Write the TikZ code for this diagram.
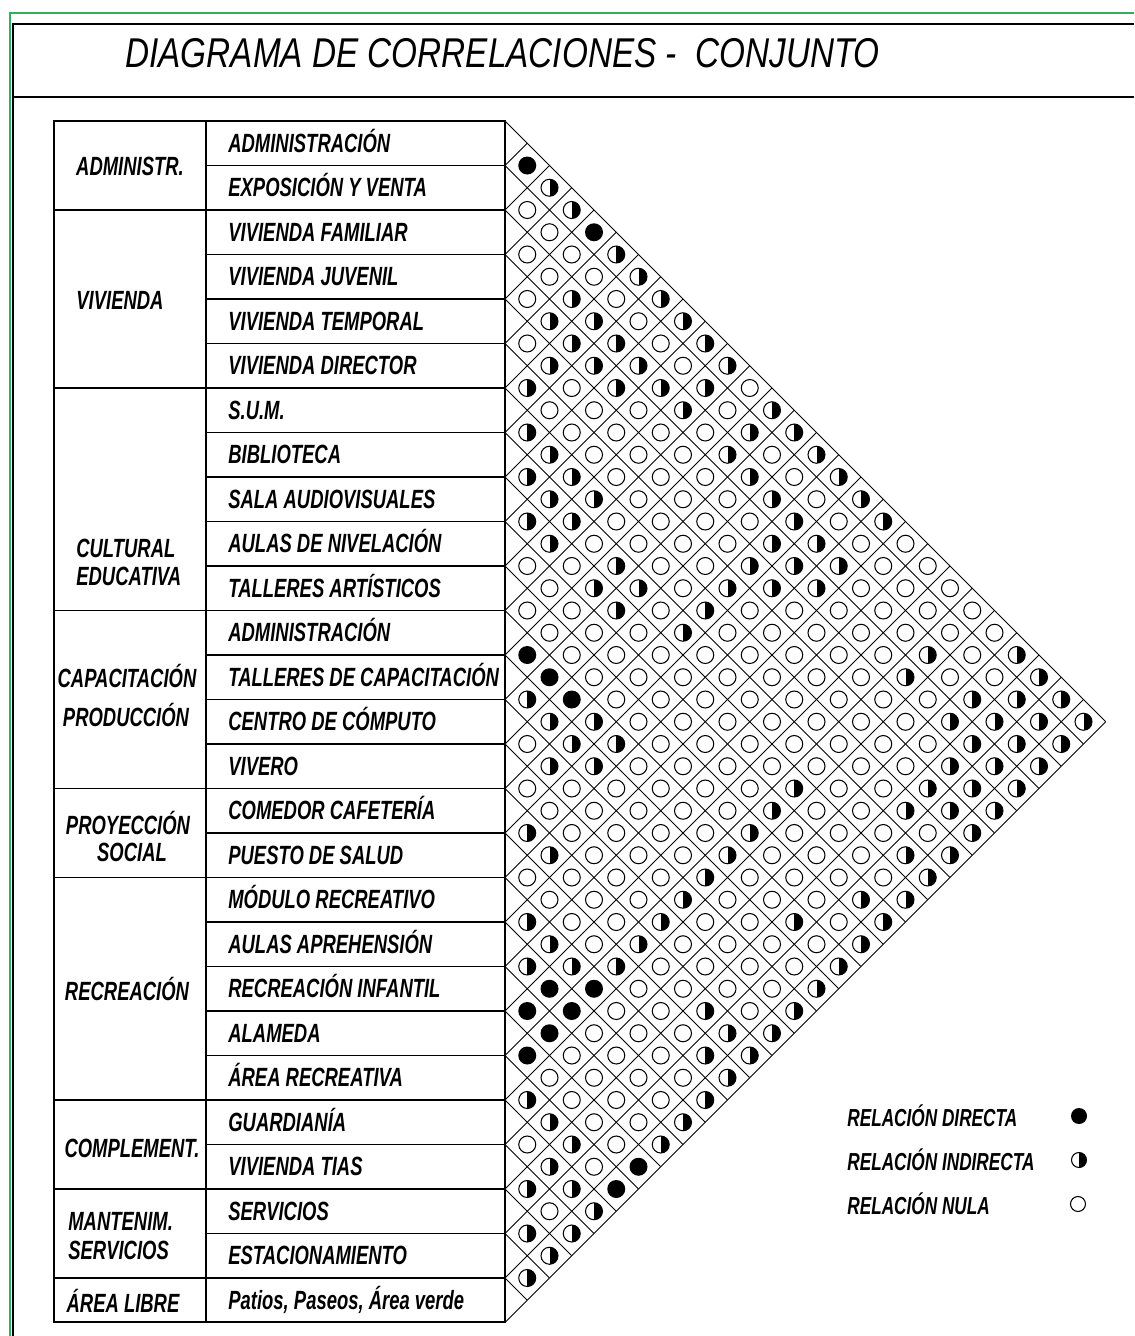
\documentclass[tikz,border=0pt]{standalone}
\usepackage{fontspec}
\newfontfamily\cadfont[FakeStretch=0.7]{Liberation Sans}
\newfontfamily\ttlfont[FakeStretch=0.8]{Liberation Sans}
\definecolor{frameg}{RGB}{50,175,90}
\begin{document}
\begin{tikzpicture}[x=0.02cm, y=-0.02cm,
  tbl/.style={line width=1.1pt},
  gridl/.style={line width=0.5pt},
  lab/.style={font=\cadfont\bfseries\itshape\fontsize{15}{16}\selectfont, inner sep=0pt},
  leg/.style={font=\cadfont\bfseries\itshape\fontsize{14}{15}\selectfont, inner sep=0pt},
  symO/.style={circle, draw, line width=0.6pt, fill=white, minimum size=0.34cm, inner sep=0pt},
  symF/.style={circle, fill=black, minimum size=0.36cm, inner sep=0pt},
  symH/.style={symO, path picture={\fill[black] (path picture bounding box.north) rectangle (path picture bounding box.south east);}}
]
\useasboundingbox (0,0) rectangle (1134,1336);
% frame
\draw[frameg, line width=1pt] (10,1336) -- (10,13) -- (1134,13);
\draw[line width=1pt] (13,1336) -- (13,24) -- (1134,24);
\draw[line width=1.1pt] (13,97) -- (1134,97);
\node[font=\ttlfont\itshape\fontsize{23.7}{26}\selectfont, inner sep=0pt, anchor=base west] (title) at (125,67) {DIAGRAMA DE CORRELACIONES -\ \ CONJUNTO};
% diagonal grid
\foreach \b in {0,...,27} {
  \pgfmathsetmacro\yb{121+44.5*\b}
  \draw[gridl] (505,\yb) -- ({505+(1322-\yb)/2},{(1322+\yb)/2});
  \draw[gridl] (505,\yb) -- ({505+(\yb-121)/2},{(\yb+121)/2});
}
% table
\draw[tbl] (54,121) rectangle (505,1322);
\draw[tbl] (206,121) -- (206,1322);
\foreach \b in {1,...,26} {\draw[tbl] (206,{121+44.5*\b}) -- (505,{121+44.5*\b});}
\foreach \b in {2,6,11,15,17,22,24,26} {\draw[tbl] (54,{121+44.5*\b}) -- (206,{121+44.5*\b});}
% row labels
\foreach \i/\t in {0/ADMINISTRACIÓN,1/EXPOSICIÓN Y VENTA,2/VIVIENDA FAMILIAR,3/VIVIENDA JUVENIL,4/VIVIENDA TEMPORAL,5/VIVIENDA DIRECTOR,6/S.U.M.,7/BIBLIOTECA,8/SALA AUDIOVISUALES,9/AULAS DE NIVELACIÓN,10/TALLERES ARTÍSTICOS,11/ADMINISTRACIÓN,12/TALLERES DE CAPACITACIÓN,13/CENTRO DE CÓMPUTO,14/VIVERO,15/COMEDOR CAFETERÍA,16/PUESTO DE SALUD,17/MÓDULO RECREATIVO,18/AULAS APREHENSIÓN,19/RECREACIÓN INFANTIL,20/ALAMEDA,21/ÁREA RECREATIVA,22/GUARDIANÍA,23/VIVIENDA TIAS,24/SERVICIOS,25/ESTACIONAMIENTO,26/{Patios, Paseos, Área verde}} {
  \node[lab, anchor=base west] (r\i) at (228,{121+44.5*\i+22.25+9}) {\t};
}
% group labels
\node[lab, anchor=base] (g1) at (130,175) {ADMINISTR.};
\node[lab, anchor=base] (g2) at (120,309) {VIVIENDA};
\node[lab, anchor=base west] (g3a) at (76,557) {CULTURAL};
\node[lab, anchor=base west] (g3b) at (76,585) {EDUCATIVA};
\node[lab, anchor=base] (g4a) at (127,687) {CAPACITACIÓN};
\node[lab, anchor=base] (g4b) at (126,726) {PRODUCCIÓN};
\node[lab, anchor=base] (g5a) at (128,834) {PROYECCIÓN};
\node[lab, anchor=base] (g5b) at (132,861) {SOCIAL};
\node[lab, anchor=base] (g6) at (127,1000) {RECREACIÓN};
\node[lab, anchor=base] (g7) at (132,1157) {COMPLEMENT.};
\node[lab, anchor=base west] (g8a) at (68,1230) {MANTENIM.};
\node[lab, anchor=base west] (g8b) at (68,1259) {SERVICIOS};
\node[lab, anchor=base] (g9) at (123,1312) {ÁREA LIBRE};
% symbols
\foreach \k/\lst in {1/{F},2/{H},3/{O,H},4/{O,F},5/{O,O,H},6/{O,O,H},7/{O,H,O,H},8/{H,H,O,H},9/{O,H,H,O,H},10/{H,H,H,O,H},
 11/{H,O,H,H,H,O},12/{O,O,O,H,O,H},13/{H,O,O,O,O,H,H},14/{H,O,O,O,H,O,H},15/{H,H,O,O,O,H,O,H},16/{H,H,O,O,O,H,O,H},
 17/{H,H,O,O,O,O,H,O,H},18/{H,O,O,O,O,H,H,O,O},19/{O,O,H,O,O,H,H,H,O,O},20/{O,H,H,O,H,H,H,O,O,O},
 21/{O,O,H,O,H,O,O,O,O,O,O},22/{O,O,O,H,O,O,O,O,O,O,O},23/{F,O,O,O,O,O,O,O,O,H,O,H},24/{F,O,O,O,O,O,O,O,H,O,O,H},
 25/{H,F,O,O,O,O,O,O,O,O,H,H,H},26/{H,H,O,O,O,O,O,O,O,H,H,H,H},27/{O,H,H,O,O,O,O,O,O,O,H,H,H},28/{H,H,O,O,O,O,O,O,O,H,H,H},
 29/{O,O,O,O,O,O,H,O,O,H,H,H},30/{O,O,O,O,O,H,O,O,H,H,H},31/{H,O,O,O,O,H,O,O,O,O,H},32/{H,O,O,O,H,O,O,O,H,H},
 33/{O,O,O,O,H,O,O,O,O,H},34/{O,O,O,H,O,O,O,H,H},35/{H,O,O,H,O,O,H,O,H},36/{H,O,H,O,O,O,O,H},37/{H,H,H,O,O,O,O,H},
 38/{F,F,O,O,O,O,H},39/{F,F,O,O,H,O,H},40/{F,O,O,O,H,H},41/{F,O,O,O,H,H},42/{O,O,O,O,H},43/{H,O,O,O,H},
 44/{H,O,O,H},45/{O,H,O,H},46/{H,O,F},47/{H,H,F},48/{O,H},49/{H,H},50/{H},51/{H}} {
  \pgfmathtruncatemacro\dmin{2-mod(\k,2)}
  \foreach \t [count=\n from 0] in \lst {
    \pgfmathsetmacro\dd{\dmin+2*\n}
    \node[sym\t] (s\k-\n) at ({505+22.25*\dd},{143.25+22.25*\k}) {};
  }
}
% legend
\node[leg, anchor=base west] (l1) at (847,1126) {RELACIÓN DIRECTA};
\node[leg, anchor=base west] (l2) at (847,1170) {RELACIÓN INDIRECTA};
\node[leg, anchor=base west] (l3) at (847,1214) {RELACIÓN NULA};
\node[symF, minimum size=0.32cm] (m1) at (1079,1116) {};
\node[symH, minimum size=0.30cm] (m2) at (1079,1160) {};
\node[symO, minimum size=0.30cm] (m3) at (1078,1204) {};
\end{tikzpicture}
\end{document}
